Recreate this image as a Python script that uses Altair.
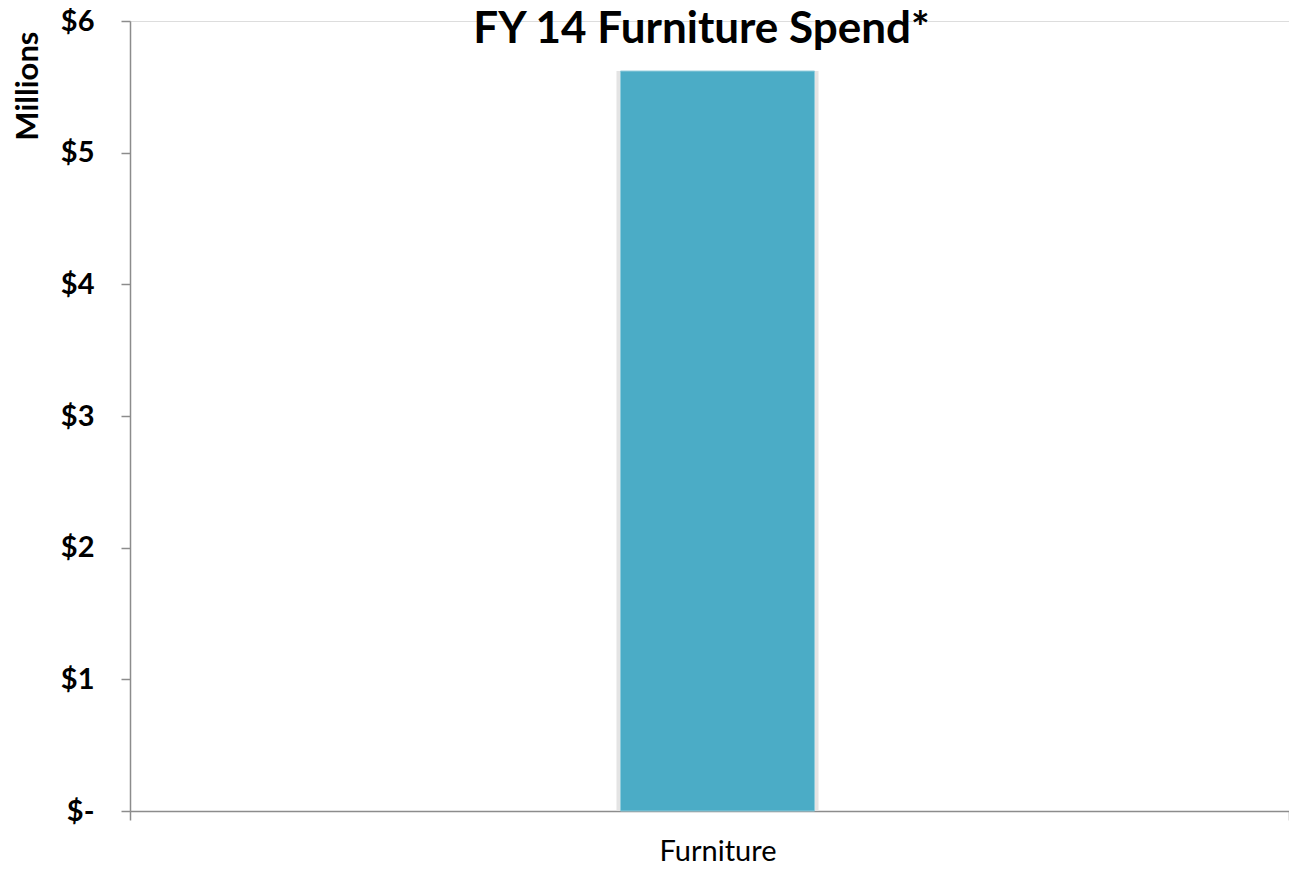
import altair as alt
import pandas as pd

categories = ["Furniture"]
spend_millions = [5.62]
y_ticks = [0, 1, 2, 3, 4, 5, 6]

df = pd.DataFrame({"category": categories, "spend": spend_millions})

FONT = "Lato"
AXIS_GRAY = "#8c8c8c"

x_enc = alt.X(
    "category:N",
    scale=alt.Scale(paddingInner=0, paddingOuter=0),
    axis=alt.Axis(
        title=None,
        labelAngle=0,
        labelFont=FONT,
        labelFontSize=29,
        labelFontWeight="normal",
        labelColor="#000000",
        labelBaseline="alphabetic",
        labelPadding=40,
        labelOffset=8,
        tickBand="extent",
        tickSize=9,
        tickColor=AXIS_GRAY,
        domainColor=AXIS_GRAY,
        tickWidth=1.5,
        domainWidth=1.5,
        grid=False,
    ),
)

y_enc = alt.Y(
    "spend:Q",
    scale=alt.Scale(domain=[0, 6], nice=False),
    axis=alt.Axis(
        title="Millions",
        values=y_ticks,
        labelExpr="datum.value == 0 ? '$-' : '$' + datum.value",
        labelFont=FONT,
        labelFontSize=29,
        labelFontWeight="bold",
        labelColor="#000000",
        labelPadding=27,
        tickSize=9,
        tickColor=AXIS_GRAY,
        domainColor=AXIS_GRAY,
        tickWidth=1.5,
        domainWidth=1.5,
        grid=False,
        titleFont=FONT,
        titleFontSize=31,
        titleFontWeight="bold",
        titleColor="#000000",
        titleAngle=270,
        titleAlign="right",
        titleBaseline="middle",
        titleX=-102,
        titleY=10,
    ),
)

base = alt.Chart(df)

shadow = base.mark_bar(size=202, color="#e4e4e4", xOffset=8).encode(x=x_enc, y=y_enc)
bar = base.mark_bar(
    size=194, color="#4BACC6", stroke="#8fcbdb", strokeWidth=1, xOffset=8
).encode(x=x_enc, y=y_enc)

chart = (
    alt.layer(shadow, bar)
    .properties(
        width=1159,
        height=790,
        title=alt.TitleParams(
            text="FY 14 Furniture Spend*",
            font=FONT,
            fontSize=44,
            fontWeight="bold",
            color="#000000",
            anchor="middle",
            dx=-8,
            offset=-45,
        ),
        autosize=alt.AutoSizeParams(type="none"),
        padding={"left": 122, "top": 13, "right": 0, "bottom": 51},
    )
    .configure_view(stroke=None)
    .configure(background="#ffffff")
)

chart.save("out.html", embed_options={"renderer": "svg", "actions": False})
